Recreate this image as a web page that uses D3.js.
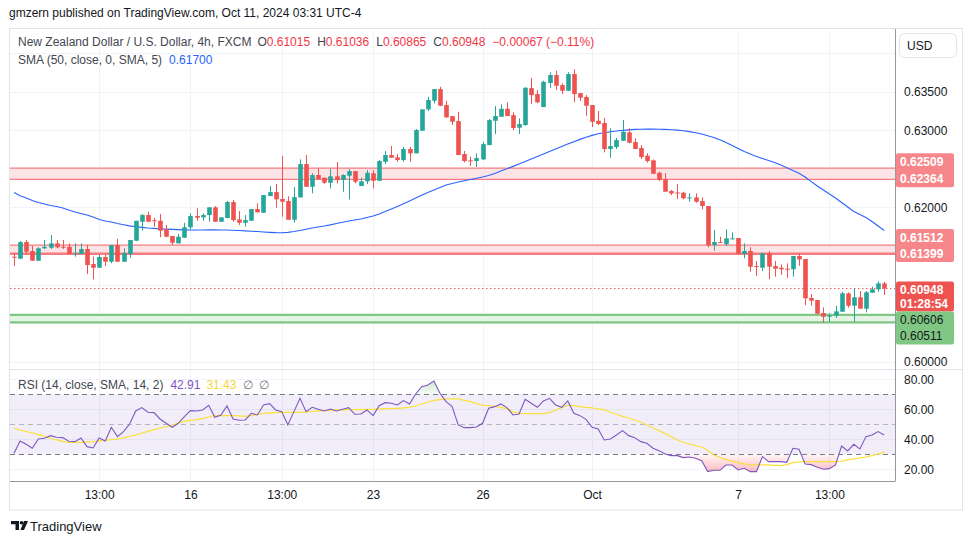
<!DOCTYPE html>
<html><head><meta charset="utf-8">
<script src="https://cdn.jsdelivr.net/npm/d3@7/dist/d3.min.js"></script>
<style>
body{margin:0;background:#fff;}
svg{display:block;font-family:"Liberation Sans",Arial,sans-serif;}
</style>
</head><body>
<svg id="c" width="970" height="545"></svg>
<script>
// ---------- DATA ----------
const opens=[0.61361,0.61335,0.61551,0.61435,0.61309,0.61470,0.61477,0.61534,0.61490,0.61490,
0.61402,0.61396,0.61461,0.61266,0.61218,0.61357,0.61296,0.61512,0.61296,0.61396,
0.61568,0.61814,0.61901,0.61833,0.61827,0.61716,0.61629,0.61534,0.61607,0.61742,
0.61888,0.61871,0.61901,0.62001,0.61814,0.61862,0.62070,0.61845,0.61801,0.61827,
0.61979,0.61931,0.62147,0.62199,0.62109,0.62083,0.61840,0.62130,0.62562,0.62268,
0.62420,0.62385,0.62320,0.62403,0.62355,0.62411,0.62471,0.62277,0.62338,0.62442,
0.62346,0.62592,0.62679,0.62649,0.62614,0.62757,0.62701,0.62994,0.63271,0.63383,
0.63534,0.63327,0.63184,0.63119,0.62692,0.62610,0.62601,0.62623,0.62808,0.63123,
0.63175,0.63279,0.63197,0.63033,0.63068,0.63547,0.63469,0.63301,0.63612,0.63716,
0.63586,0.63512,0.63729,0.63482,0.63431,0.63327,0.63123,0.63094,0.62757,0.62782,
0.62864,0.62973,0.62847,0.62770,0.62670,0.62610,0.62449,0.62364,0.62212,0.62193,
0.62190,0.62118,0.62130,0.62083,0.62018,0.61512,0.61551,0.61522,0.61597,0.61603,
0.61396,0.61435,0.61240,0.61218,0.61405,0.61240,0.61218,0.61205,0.61198,0.61370,
0.61331,0.60826,0.60800,0.60631,0.60588,0.60596,0.60648,0.60886,0.60726,0.60835,
0.60687,0.60894,0.60938,0.61015];
const highs=[0.61405,0.61564,0.61577,0.61499,0.61483,0.61577,0.61642,0.61577,0.61577,0.61534,
0.61534,0.61534,0.61512,0.61361,0.61383,0.61383,0.61512,0.61594,0.61470,0.61577,
0.61827,0.61914,0.61944,0.61866,0.61914,0.61772,0.61629,0.61655,0.61801,0.61923,
0.61988,0.61923,0.62001,0.62018,0.61871,0.62083,0.62096,0.61953,0.61901,0.61979,
0.62053,0.62160,0.62277,0.62303,0.62666,0.62144,0.62264,0.62623,0.62679,0.62442,
0.62506,0.62385,0.62501,0.62588,0.62429,0.62497,0.62471,0.62385,0.62484,0.62484,
0.62614,0.62731,0.62795,0.62692,0.62786,0.62786,0.63016,0.63271,0.63434,0.63534,
0.63564,0.63379,0.63184,0.63240,0.62731,0.62657,0.62701,0.62851,0.63145,0.63314,
0.63336,0.63362,0.63232,0.63154,0.63560,0.63681,0.63521,0.63642,0.63751,0.63771,
0.63608,0.63751,0.63790,0.63482,0.63456,0.63327,0.63249,0.63162,0.63025,0.62903,
0.63132,0.63025,0.62895,0.62808,0.62701,0.62623,0.62462,0.62442,0.62225,0.62303,
0.62203,0.62182,0.62182,0.62130,0.62018,0.61707,0.61620,0.61716,0.61677,0.61603,
0.61534,0.61483,0.61305,0.61413,0.61435,0.61305,0.61262,0.61275,0.61370,0.61405,
0.61331,0.60877,0.60800,0.60705,0.60627,0.60726,0.60907,0.60899,0.60951,0.60916,
0.60916,0.60972,0.61042,0.61036];
const lows=[0.61240,0.61335,0.61392,0.61309,0.61309,0.61461,0.61461,0.61470,0.61461,0.61396,
0.61361,0.61396,0.61137,0.61068,0.61218,0.61240,0.61275,0.61296,0.61296,0.61348,
0.61568,0.61698,0.61814,0.61750,0.61612,0.61612,0.61512,0.61534,0.61607,0.61716,
0.61827,0.61827,0.61814,0.61814,0.61814,0.61862,0.61814,0.61772,0.61750,0.61823,
0.61936,0.61931,0.62147,0.61996,0.61879,0.61840,0.61801,0.62130,0.62268,0.62182,
0.62368,0.62307,0.62247,0.62312,0.62203,0.62105,0.62312,0.62277,0.62303,0.62247,
0.62346,0.62562,0.62644,0.62592,0.62592,0.62592,0.62701,0.62994,0.63249,0.63349,
0.63314,0.63162,0.63068,0.62679,0.62584,0.62540,0.62527,0.62614,0.62808,0.62951,
0.63175,0.63184,0.63003,0.62951,0.63058,0.63340,0.63349,0.63301,0.63551,0.63521,
0.63469,0.63512,0.63362,0.63379,0.63188,0.63042,0.63068,0.62714,0.62644,0.62757,
0.62864,0.62830,0.62757,0.62627,0.62579,0.62436,0.62342,0.62203,0.62160,0.62109,
0.62105,0.62074,0.62061,0.61975,0.61483,0.61439,0.61542,0.61499,0.61586,0.61396,
0.61340,0.61166,0.61111,0.61175,0.61068,0.61102,0.61124,0.61089,0.61102,0.61244,
0.60735,0.60726,0.60614,0.60505,0.60518,0.60570,0.60648,0.60700,0.60518,0.60687,
0.60640,0.60894,0.60907,0.60865];
const closes=[0.61348,0.61551,0.61426,0.61309,0.61470,0.61490,0.61534,0.61483,0.61483,0.61396,
0.61405,0.61461,0.61253,0.61218,0.61357,0.61296,0.61512,0.61296,0.61409,0.61577,
0.61827,0.61901,0.61814,0.61827,0.61698,0.61620,0.61542,0.61620,0.61742,0.61888,
0.61866,0.61901,0.62001,0.61814,0.61871,0.62070,0.61836,0.61801,0.61836,0.61979,
0.61936,0.62160,0.62199,0.62105,0.62074,0.61840,0.62134,0.62562,0.62268,0.62420,
0.62368,0.62320,0.62403,0.62355,0.62420,0.62471,0.62333,0.62338,0.62449,0.62346,
0.62601,0.62679,0.62644,0.62614,0.62757,0.62701,0.63003,0.63271,0.63392,0.63534,
0.63318,0.63167,0.63110,0.62679,0.62601,0.62605,0.62640,0.62821,0.63132,0.63184,
0.63279,0.63184,0.63029,0.63081,0.63551,0.63456,0.63362,0.63629,0.63716,0.63577,
0.63512,0.63729,0.63469,0.63421,0.63318,0.63110,0.63081,0.62757,0.62795,0.62873,
0.62981,0.62838,0.62757,0.62653,0.62601,0.62436,0.62355,0.62203,0.62182,0.62186,
0.62118,0.62130,0.62074,0.62018,0.61509,0.61551,0.61542,0.61599,0.61599,0.61396,
0.61435,0.61231,0.61231,0.61405,0.61231,0.61205,0.61198,0.61198,0.61370,0.61327,
0.60822,0.60791,0.60622,0.60583,0.60596,0.60653,0.60886,0.60726,0.60835,0.60687,
0.60899,0.60938,0.61015,0.60948];
const smaValues=[0.62193,0.62151,0.62122,0.62089,0.62063,0.62044,0.62024,0.62011,0.61992,0.61966,
0.61940,0.61921,0.61901,0.61875,0.61843,0.61823,0.61811,0.61791,0.61776,0.61761,
0.61750,0.61741,0.61733,0.61728,0.61722,0.61719,0.61715,0.61712,0.61709,0.61707,
0.61707,0.61708,0.61709,0.61709,0.61708,0.61707,0.61704,0.61700,0.61696,0.61691,
0.61687,0.61682,0.61677,0.61673,0.61672,0.61677,0.61687,0.61700,0.61716,0.61733,
0.61746,0.61759,0.61774,0.61791,0.61807,0.61823,0.61836,0.61849,0.61869,0.61888,
0.61914,0.61947,0.61979,0.62011,0.62046,0.62083,0.62122,0.62157,0.62193,0.62225,
0.62258,0.62290,0.62309,0.62329,0.62346,0.62361,0.62377,0.62394,0.62413,0.62439,
0.62471,0.62500,0.62532,0.62562,0.62595,0.62627,0.62659,0.62692,0.62724,0.62757,
0.62789,0.62821,0.62851,0.62882,0.62910,0.62934,0.62954,0.62968,0.62980,0.62990,
0.62999,0.63005,0.63011,0.63013,0.63015,0.63015,0.63013,0.63011,0.63007,0.63002,
0.62994,0.62982,0.62968,0.62951,0.62930,0.62906,0.62876,0.62841,0.62802,0.62763,
0.62724,0.62692,0.62659,0.62633,0.62608,0.62582,0.62549,0.62514,0.62478,0.62442,
0.62394,0.62335,0.62277,0.62225,0.62173,0.62122,0.62063,0.62005,0.61947,0.61908,
0.61869,0.61817,0.61759,0.61700];
const rsiValues=[30.67,38.89,36.67,34.00,40.22,40.67,42.44,41.33,41.11,38.67,
38.44,40.89,35.11,34.22,40.89,38.89,48.00,41.78,45.11,50.22,
58.89,61.11,58.00,57.78,53.56,50.67,48.00,50.67,55.11,59.11,
58.89,59.56,62.67,54.67,56.22,62.22,53.56,52.67,52.89,57.33,
56.22,62.89,63.78,59.56,58.44,49.56,58.44,67.33,58.44,61.33,
60.00,58.89,60.22,58.89,60.00,61.11,56.67,56.89,59.56,55.78,
62.44,64.44,64.00,62.89,65.78,63.56,70.22,75.11,76.22,78.89,
70.67,65.11,61.78,49.56,47.78,47.78,48.22,50.67,60.67,61.78,
63.56,61.11,56.22,56.89,66.67,64.00,61.33,65.56,67.33,62.89,
61.33,65.56,57.33,55.78,53.33,48.00,46.89,39.56,40.22,42.89,
45.78,42.44,41.11,38.44,37.33,34.00,32.44,30.22,29.11,29.11,
27.78,28.22,27.33,25.78,18.44,19.33,19.33,22.89,22.89,19.56,
20.67,18.44,18.44,28.44,25.11,25.11,25.11,24.67,34.00,33.33,
23.56,23.11,21.33,20.00,20.44,22.89,35.56,32.22,36.67,33.56,
41.78,42.89,45.11,42.91];
const rsiMaValues=[47.33,46.22,45.33,44.22,43.11,42.00,40.67,39.56,38.67,38.00,
38.00,38.00,38.22,38.44,38.89,39.33,39.78,40.22,40.89,42.00,
42.89,44.00,45.33,46.44,47.56,48.44,49.56,50.89,52.00,52.67,
53.11,53.78,54.89,55.78,55.78,55.78,55.78,55.56,55.33,55.78,
56.67,57.33,57.56,57.78,58.00,58.00,58.00,58.00,58.22,58.67,
58.89,59.11,59.33,59.56,59.56,59.78,59.78,59.78,60.00,60.00,
60.22,60.22,60.44,60.67,60.89,61.33,62.22,63.56,64.89,66.00,
66.44,66.89,66.89,66.89,66.00,65.11,63.78,62.67,62.44,62.00,
61.33,60.44,58.44,57.33,57.11,57.11,57.11,57.11,57.78,59.33,
61.11,62.67,62.44,61.78,61.33,60.89,60.22,59.78,58.00,56.67,
55.33,54.22,52.89,51.33,49.56,47.56,45.78,43.78,41.78,39.56,
38.00,36.89,35.78,34.89,32.67,29.56,28.00,26.44,25.33,24.44,
23.56,23.11,22.89,22.89,22.89,22.67,22.44,23.11,24.44,24.89,
25.11,25.11,25.11,25.11,25.11,25.11,25.33,26.44,26.89,27.56,
28.22,29.11,30.22,31.43];
const timeTickIndex=[14,29,44,59,77,95,119,134];
const timeTickLabels=["13:00","16","13:00","23","26","Oct","7","13:00"];
const priceTicks=[0.600,0.605,0.610,0.615,0.620,0.625,0.630,0.635,0.640];
const rsiTicks=[20,40,60,80];
const rsiLevels=[70,50,30];
const zoneTop=[0.62509,0.61512,0.60606];
const zoneBottom=[0.62364,0.61399,0.60511];
const zoneKind=["red","red","green"];
const lastPrice=0.60948;
const countdown="01:28:54";
const legendOHLC=[["O","0.61015"],["H","0.61036"],["L","0.60865"],["C","0.60948"]];
const legendChange="\u22120.00067 (\u22120.11%)";
const smaLast="0.61700";
const rsiLast="42.91", rsiMaLast="31.43";

// ---------- LAYOUT ----------
const L=10, R=895, paneTop=30, paneBot=369, rsiTop=370, rsiBot=481, axisBot=510, frameR=962;
const N=closes.length;
const x=d3.scaleLinear().domain([0,N-1]).range([14,884.2]);
const y=d3.scaleLinear().domain([0.600,0.635]).range([361.7,91.7]);
const yr=d3.scaleLinear().domain([30,70]).range([454.3,394.3]);
const UP="#26a69a", DN="#ef5350";
const svg=d3.select("#c");
const defs=svg.append("defs");
defs.append("clipPath").attr("id","mainClip").append("rect").attr("x",L).attr("y",paneTop).attr("width",R-L).attr("height",paneBot-paneTop);
defs.append("clipPath").attr("id","rsiClip").append("rect").attr("x",L).attr("y",rsiTop).attr("width",R-L).attr("height",rsiBot-rsiTop);
defs.append("clipPath").attr("id","below30").append("rect").attr("x",L).attr("y",yr(30)).attr("width",R-L).attr("height",rsiBot-yr(30));
defs.append("clipPath").attr("id","above70").append("rect").attr("x",L).attr("y",rsiTop).attr("width",R-L).attr("height",yr(70)-rsiTop);
const gPink=defs.append("linearGradient").attr("id","pinkG").attr("gradientUnits","userSpaceOnUse")
  .attr("x1",0).attr("x2",0).attr("y1",yr(30)).attr("y2",yr(18));
gPink.append("stop").attr("offset",0).attr("stop-color","#f23645").attr("stop-opacity",0.04);
gPink.append("stop").attr("offset",1).attr("stop-color","#f23645").attr("stop-opacity",0.35);
const gGreen=defs.append("linearGradient").attr("id","greenG").attr("gradientUnits","userSpaceOnUse")
  .attr("x1",0).attr("x2",0).attr("y1",yr(70)).attr("y2",yr(80));
gGreen.append("stop").attr("offset",0).attr("stop-color","#4caf50").attr("stop-opacity",0.05);
gGreen.append("stop").attr("offset",1).attr("stop-color","#4caf50").attr("stop-opacity",0.3);

// header
svg.append("text").attr("x",9).attr("y",17).attr("font-size",12).attr("fill","#131722")
  .text("gmzern published on TradingView.com, Oct 11, 2024 03:31 UTC-4");

// frame
svg.append("rect").attr("x",L-0.5).attr("y",paneTop-1.5).attr("width",frameR-L+1).attr("height",axisBot-paneTop+1.5)
  .attr("fill","#fff").attr("stroke","#e0e3eb");

// gridlines
const grid=svg.append("g").attr("stroke","#f0f3fa").attr("stroke-width",1);
priceTicks.forEach(p=>{const yy=Math.round(y(p))+0.5; if(yy>paneTop&&yy<paneBot) grid.append("line").attr("x1",L).attr("x2",R).attr("y1",yy).attr("y2",yy);});
rsiTicks.forEach(v=>{const yy=Math.round(yr(v))+0.5; grid.append("line").attr("x1",L).attr("x2",R).attr("y1",yy).attr("y2",yy);});
timeTickIndex.forEach(i=>{const xx=Math.round(x(i))+0.5;
  grid.append("line").attr("x1",xx).attr("x2",xx).attr("y1",paneTop).attr("y2",paneBot);
  grid.append("line").attr("x1",xx).attr("x2",xx).attr("y1",rsiTop).attr("y2",rsiBot);});

// main pane
const main=svg.append("g").attr("clip-path","url(#mainClip)");
zoneTop.forEach((t,k)=>{
  const red=zoneKind[k]==="red";
  const y1=y(t), y2=y(zoneBottom[k]);
  main.append("rect").attr("x",L).attr("width",R-L).attr("y",y1).attr("height",y2-y1).attr("fill",red?"#fce4e6":"#e6f4e6");
  main.append("line").attr("x1",L).attr("x2",R).attr("y1",y1).attr("y2",y1).attr("stroke",red?"#f77c80":"#81c784").attr("stroke-width",red?1.3:2.2);
  main.append("line").attr("x1",L).attr("x2",R).attr("y1",y2).attr("y2",y2).attr("stroke",red?"#f77c80":"#81c784").attr("stroke-width",red?(k===1?2.4:1.3):2.2);
});
main.append("line").attr("x1",L).attr("x2",R).attr("y1",y(lastPrice)).attr("y2",y(lastPrice))
  .attr("stroke","#ef5350").attr("stroke-width",1).attr("stroke-dasharray","1.5,2.5");
main.append("path").datum(smaValues).attr("fill","none").attr("stroke","#2962ff").attr("stroke-width",1.1)
  .attr("d",d3.line().x((d,i)=>x(i)).y(d=>y(d)));
const idx=d3.range(N);
const cg=main.append("g");
cg.selectAll("line.w").data(idx).join("line").attr("class","w")
  .attr("x1",i=>Math.round(x(i))+0.5).attr("x2",i=>Math.round(x(i))+0.5)
  .attr("y1",i=>y(highs[i])).attr("y2",i=>y(lows[i]))
  .attr("stroke",i=>closes[i]>=opens[i]?UP:DN).attr("stroke-width",1);
cg.selectAll("rect.b").data(idx).join("rect").attr("class","b")
  .attr("x",i=>Math.round(x(i))+0.5-2.3).attr("width",4.6)
  .attr("y",i=>y(Math.max(opens[i],closes[i])))
  .attr("height",i=>Math.max(1,y(Math.min(opens[i],closes[i]))-y(Math.max(opens[i],closes[i]))))
  .attr("fill",i=>closes[i]>=opens[i]?UP:DN);

// legend
const lg=svg.append("text").attr("x",18).attr("y",46).attr("font-size",12).attr("fill","#434651");
lg.append("tspan").text("New Zealand Dollar / U.S. Dollar, 4h, FXCM");
legendOHLC.forEach(([k,v],j)=>{lg.append("tspan").attr("dx",j===0?6:7).text(k);lg.append("tspan").attr("fill","#f23645").text(v);});
lg.append("tspan").attr("dx",7).attr("fill","#f23645").text(legendChange);
const lg2=svg.append("text").attr("x",18).attr("y",64).attr("font-size",12).attr("fill","#434651");
lg2.append("tspan").text("SMA (50, close, 0, SMA, 5)");
lg2.append("tspan").attr("dx",7).attr("fill","#2962ff").text(smaLast);

// separator
svg.append("line").attr("x1",L).attr("x2",frameR).attr("y1",paneBot+0.5).attr("y2",paneBot+0.5).attr("stroke","#e0e3eb");

// RSI pane
const rp=svg.append("g").attr("clip-path","url(#rsiClip)");
rp.append("rect").attr("x",L).attr("width",R-L).attr("y",yr(70)).attr("height",yr(30)-yr(70)).attr("fill","#7e57c2").attr("fill-opacity",0.1);
rsiLevels.forEach(v=>{rp.append("line").attr("x1",L).attr("x2",R).attr("y1",Math.round(yr(v))+0.5).attr("y2",Math.round(yr(v))+0.5)
  .attr("stroke",v===50?"#b2b5be":"#787b86").attr("stroke-dasharray","5,4").attr("stroke-width",1);});
rp.append("path").datum(rsiValues).attr("clip-path","url(#below30)").attr("fill","url(#pinkG)")
  .attr("d",d3.area().x((d,i)=>x(i)).y0(yr(30)).y1(d=>yr(d)));
rp.append("path").datum(rsiValues).attr("clip-path","url(#above70)").attr("fill","url(#greenG)")
  .attr("d",d3.area().x((d,i)=>x(i)).y0(yr(70)).y1(d=>yr(d)));
rp.append("path").datum(rsiMaValues).attr("fill","none").attr("stroke","#fbe03a").attr("stroke-width",1.2)
  .attr("d",d3.line().x((d,i)=>x(i)).y(d=>yr(d)));
rp.append("path").datum(rsiValues).attr("fill","none").attr("stroke","#7e57c2").attr("stroke-width",1.1)
  .attr("d",d3.line().x((d,i)=>x(i)).y(d=>yr(d)));
const rl=svg.append("text").attr("x",18).attr("y",389).attr("font-size",12).attr("fill","#434651");
rl.append("tspan").text("RSI (14, close, SMA, 14, 2)");
rl.append("tspan").attr("dx",7).attr("fill","#7e57c2").text(rsiLast);
rl.append("tspan").attr("dx",6).attr("fill","#f5d83a").text(rsiMaLast);
rl.append("tspan").attr("dx",7).attr("fill","#787b86").text("\u2205");
rl.append("tspan").attr("dx",6).attr("fill","#787b86").text("\u2205");

// price label boxes (top, height)
const fmt=d3.format(".5f");
const boxes=[
  {top:y(zoneTop[0])-15,h:34,fill:"#f7868a",tf:"#fff",l1:fmt(zoneTop[0]),l2:fmt(zoneBottom[0]),b:true},
  {top:y(zoneTop[1])-16,h:33,fill:"#f7868a",tf:"#fff",l1:fmt(zoneTop[1]),l2:fmt(zoneBottom[1]),b:true},
  {top:y(lastPrice)-7,h:30,fill:"#ef5350",tf:"#fff",l1:fmt(lastPrice),l2:countdown,b:true},
  {top:y(zoneTop[2])-3.5,h:33,fill:"#81c784",tf:"#131722",l1:fmt(zoneTop[2]),l2:fmt(zoneBottom[2]),b:false}
];
const hidden=p=>boxes.some(bx=>y(p)>bx.top-8&&y(p)<bx.top+bx.h+8);

// axes
svg.append("line").attr("x1",R+0.5).attr("x2",R+0.5).attr("y1",paneTop-1).attr("y2",rsiBot).attr("stroke","#9598a1");
svg.append("line").attr("x1",L).attr("x2",R+0.5).attr("y1",rsiBot+0.5).attr("y2",rsiBot+0.5).attr("stroke","#9598a1");
const pa=svg.append("g").attr("transform",`translate(${R+3},0)`)
  .call(d3.axisRight(y).tickValues(priceTicks.filter(p=>y(p)>paneTop+30&&y(p)<paneBot&&!hidden(p))).tickFormat(d3.format(".5f")).tickSize(0).tickPadding(6));
const ra=svg.append("g").attr("transform",`translate(${R+3},0)`)
  .call(d3.axisRight(yr).tickValues(rsiTicks).tickFormat(d3.format(".2f")).tickSize(0).tickPadding(6));
const xa=svg.append("g").attr("transform",`translate(0,${rsiBot})`)
  .call(d3.axisBottom(x).tickValues(timeTickIndex).tickFormat((d,i)=>timeTickLabels[i]).tickSize(0).tickPadding(9));
[pa,ra,xa].forEach(g=>{g.select(".domain").remove();g.selectAll("text").attr("font-size",12).attr("fill","#131722").attr("font-family","Liberation Sans, Arial, sans-serif");});

// USD button
svg.append("rect").attr("x",899.5).attr("y",33.5).attr("width",57).attr("height",24).attr("rx",5).attr("fill","#fff").attr("stroke","#e0e3eb");
svg.append("text").attr("x",907).attr("y",50).attr("font-size",12).attr("fill","#131722").text("USD");

// price labels
boxes.forEach(bx=>{
  svg.append("rect").attr("x",R+1).attr("y",bx.top).attr("width",58).attr("height",bx.h).attr("rx",2).attr("fill",bx.fill);
  svg.append("text").attr("x",R+5).attr("y",bx.top+bx.h*0.25+4.5).attr("font-size",12).attr("font-weight",bx.b?"bold":"normal").attr("fill",bx.tf).text(bx.l1);
  svg.append("text").attr("x",R+5).attr("y",bx.top+bx.h*0.75+4).attr("font-size",12).attr("font-weight",bx.b?"bold":"normal").attr("fill",bx.tf).text(bx.l2);
});

// footer logo
const logo=svg.append("g").attr("fill","#131722");
logo.append("path").attr("d","M11 521h8v9h-3.5v-5.8H11z");
logo.append("circle").attr("cx",21.5).attr("cy",522.8).attr("r",1.8);
logo.append("path").attr("d","M24 521h4l-4 9h-3.6z");
svg.append("text").attr("x",30).attr("y",530.5).attr("font-size",13).attr("fill","#131722").text("TradingView");
</script>
</body></html>
